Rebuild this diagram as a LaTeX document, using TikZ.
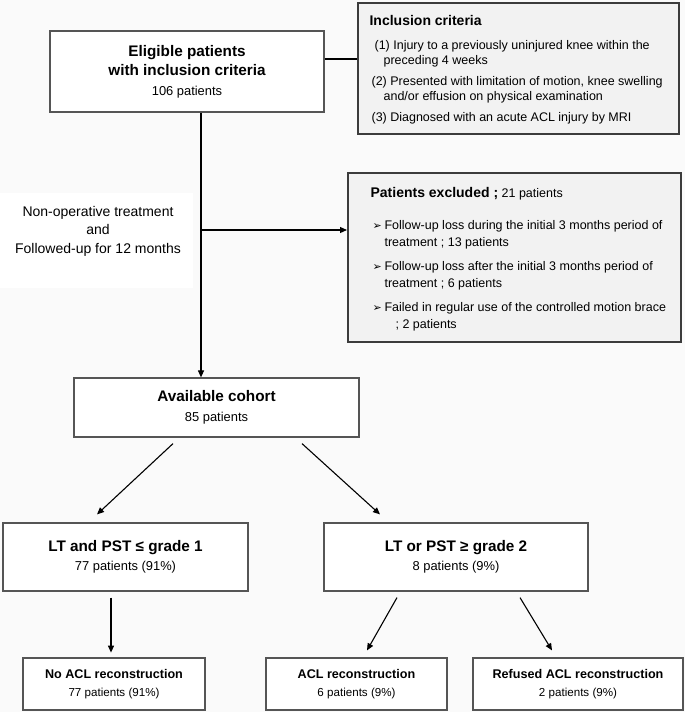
\documentclass[tikz,border=0pt]{standalone}
\usepackage{fontspec}
\setmainfont{Liberation Sans}
\newfontfamily\dingfont{DejaVu Sans}
\usetikzlibrary{arrows.meta,calc}

\definecolor{pagebg}{HTML}{FAFAFA}
\definecolor{boxline}{HTML}{555555}
\definecolor{notefill}{HTML}{F2F2F2}
\definecolor{noteline}{HTML}{3C3C3C}

\newcommand{\bighead}{\fontsize{15.3}{19}\selectfont\bfseries}
\newcommand{\bigsub}{\fontsize{12.9}{19}\selectfont\mdseries}
\newcommand{\smallhead}{\fontsize{12.6}{17.5}\selectfont\bfseries}
\newcommand{\smallsub}{\fontsize{11.6}{17.5}\selectfont\mdseries}
\newcommand{\notehead}{\fontsize{14}{15}\selectfont\bfseries}
\newcommand{\arrowbullet}{\makebox[12pt][l]{\dingfont\fontsize{11}{12}\selectfont ➢}}

\tikzset{every picture/.style={line width=1.2pt}}
\tikzset{
  flowbox/.style={draw=boxline, fill=white, line width=1.2pt, align=center, inner sep=0pt},
  notebox/.style={draw=noteline, fill=notefill, line width=1.5pt, anchor=north west, inner sep=0pt},
  notetext/.style={anchor=north west, align=left, inner sep=0pt, font=\fontsize{12.5}{15}\selectfont},
  link/.style={draw=black, line width=1.1pt},
  flowarrow/.style={link, -{Triangle[length=7pt,width=6pt]}},
}

\begin{document}
\begin{tikzpicture}[x=1pt,y=1pt,yscale=-1]
\useasboundingbox (0,0) rectangle (685,712);
\fill[pagebg] (0,0) rectangle (685,712);
%Shape: white strip behind the treatment text
\fill[white] (0,193) rectangle (193,288);

%Shape: Eligible patients
\node[flowbox, minimum width=274pt, minimum height=81pt, font=\bighead] (elig) at (187,71.5)
  {Eligible patients\\with inclusion criteria\\[1pt]{\bigsub 106 patients}};

%Shape: Inclusion criteria
\node[notebox, minimum width=321pt, minimum height=131pt] (crit) at (357,2) {};
\node[notetext] (crittext) at ($(crit.north west)+(12,13)$)
  {{\notehead Inclusion criteria}\\[8.5pt]
   \hspace*{5pt}(1) Injury to a previously uninjured knee within the\\
   \hspace*{14pt}preceding 4 weeks\\[6pt]
   \hspace*{2pt}(2) Presented with limitation of motion, knee swelling\\
   \hspace*{14pt}and/or effusion on physical examination\\[6pt]
   \hspace*{2pt}(3) Diagnosed with an acute ACL injury by MRI};

%Shape: Patients excluded
\node[notebox, minimum width=333pt, minimum height=169pt] (excl) at (347,172) {};
\node[notetext, font=\fontsize{12.5}{17}\selectfont] (excltext) at ($(excl.north west)+(23,15)$)
  {{\notehead Patients excluded ;} 21 patients\\[15pt]
   \hspace*{2pt}\arrowbullet Follow-up loss during the initial 3 months period of\\
   \hspace*{14pt}treatment ; 13 patients\\[7pt]
   \hspace*{2pt}\arrowbullet Follow-up loss after the initial 3 months period of\\
   \hspace*{14pt}treatment ; 6 patients\\[7pt]
   \hspace*{2pt}\arrowbullet Failed in regular use of the controlled motion brace\\
   \hspace*{25pt}; 2 patients};

% Text Node
\node[align=center, inner sep=0pt, font=\fontsize{14}{18.5}\selectfont] (nonop) at (98,231)
  {Non-operative treatment\\and\\Followed-up for 12 months};

%Shape: Available cohort
\node[flowbox, minimum width=285pt, minimum height=59pt, font=\bighead] (avail) at (216.5,407.5)
  {Available cohort\\[1pt]{\bigsub 85 patients}};

%Shape: grade groups
\node[flowbox, minimum width=245pt, minimum height=68pt, font=\bighead] (gradeA) at (125.5,557)
  {LT and PST ≤ grade 1\\{\bigsub 77 patients (91\%)}};
\node[flowbox, minimum width=264pt, minimum height=68pt, font=\bighead] (gradeB) at (456,557)
  {LT or PST ≥ grade 2\\{\bigsub 8 patients (9\%)}};

%Shape: outcomes
\node[flowbox, minimum width=182pt, minimum height=52pt, font=\smallhead] (noacl) at (114,684)
  {No ACL reconstruction\\{\smallsub 77 patients (91\%)}};
\node[flowbox, minimum width=181pt, minimum height=52pt, font=\smallhead] (acl) at (356.5,684)
  {ACL reconstruction\\{\smallsub 6 patients (9\%)}};
\node[flowbox, minimum width=210pt, minimum height=52pt, font=\smallhead] (refused) at (578,684)
  {Refused ACL reconstruction\\{\smallsub 2 patients (9\%)}};

%Straight Lines
\coordinate (critlink) at (0,59);
\coordinate (split) at (201,230);
\draw[link] (critlink -| elig.east) -- (critlink -| crit.west);
\draw[link] (split |- elig.south) -- (split);
\draw[flowarrow] (split) -- (split |- avail.north);
\draw[flowarrow] (split) -- (split -| excl.west);
\draw[flowarrow] ($(avail.south)+(-43.5,6)$) -- ($(gradeA.north)+(-28.5,-8)$);
\draw[flowarrow] ($(avail.south)+(85.5,6)$) -- ($(gradeB.north)+(-76,-8)$);
\draw[flowarrow] ($(gradeA.south)+(-14.5,6)$) -- ($(gradeA.south)+(-14.5,61)$);
\draw[flowarrow] ($(gradeB.south)+(-59,6)$) -- ($(acl.north)+(10.5,-7)$);
\draw[flowarrow] ($(gradeB.south)+(64,6)$) -- ($(refused.north)+(-26,-7)$);
\end{tikzpicture}
\end{document}
